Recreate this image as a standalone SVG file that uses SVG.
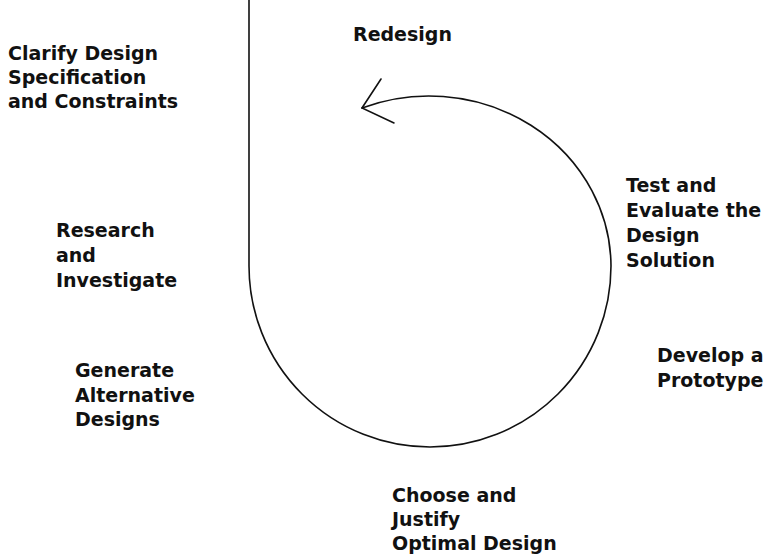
<svg xmlns="http://www.w3.org/2000/svg" width="781" height="556" viewBox="0 0 781 556">
<style>
  .lbl { font-family: "DejaVu Sans", "Liberation Sans", sans-serif; font-weight: bold; font-size: 19px; fill: #111; }
  .ln { fill: none; stroke: #111; stroke-width: 1.6; stroke-linecap: round; }
</style>
<rect width="781" height="556" fill="#fff"/>
<g id="connectors">
  <path class="ln" d="M249,0 L249,266 A181,181 0 0 0 611,266 A182,171 0 0 0 362,108"/>
  <path class="ln" d="M381,79 L362,108 L394,123"/>
</g>
<g id="redesign"><text class="lbl" x="353" y="41">Redesign</text></g>
<g id="clarify">
  <text class="lbl" x="8" y="60">Clarify Design</text>
  <text class="lbl" x="8" y="84">Specification</text>
  <text class="lbl" x="8" y="108">and Constraints</text>
</g>
<g id="research">
  <text class="lbl" x="56" y="237">Research</text>
  <text class="lbl" x="56" y="262">and</text>
  <text class="lbl" x="56" y="287">Investigate</text>
</g>
<g id="generate">
  <text class="lbl" x="75" y="377">Generate</text>
  <text class="lbl" x="75" y="402">Alternative</text>
  <text class="lbl" x="75" y="426">Designs</text>
</g>
<g id="choose">
  <text class="lbl" x="392" y="502">Choose and</text>
  <text class="lbl" x="392" y="526">Justify</text>
  <text class="lbl" x="392" y="550">Optimal Design</text>
</g>
<g id="develop">
  <text class="lbl" x="657" y="362">Develop a</text>
  <text class="lbl" x="657" y="387">Prototype</text>
</g>
<g id="test">
  <text class="lbl" x="626" y="192">Test and</text>
  <text class="lbl" x="626" y="217">Evaluate the</text>
  <text class="lbl" x="626" y="242">Design</text>
  <text class="lbl" x="626" y="267">Solution</text>
</g>
</svg>
